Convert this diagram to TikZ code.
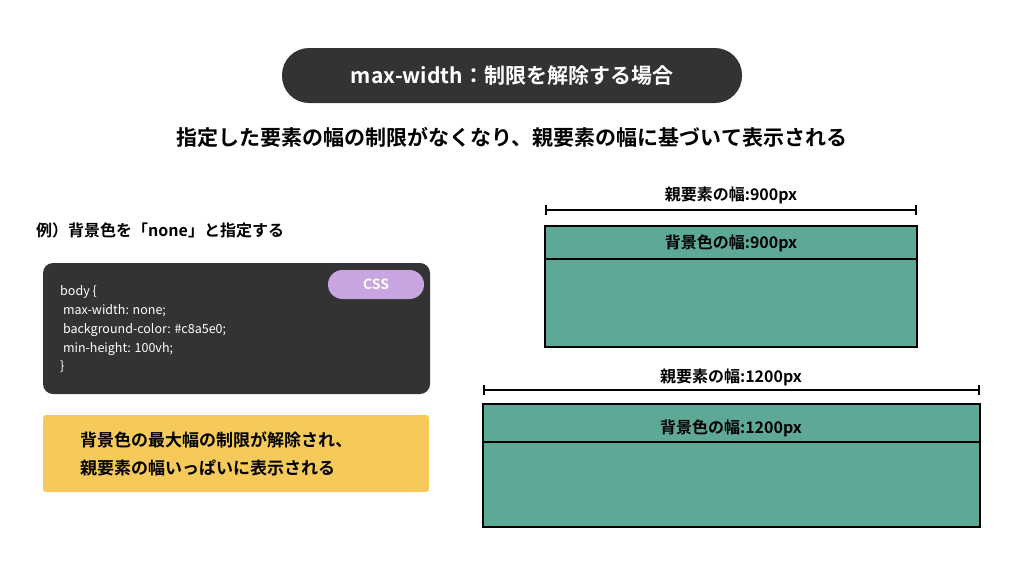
\documentclass[tikz,border=0pt]{standalone}
\usepackage{fontspec}
\setmainfont{Noto Sans CJK JP}
\newfontfamily\jpbold{Noto Sans CJK JP Bold}
\definecolor{darkbox}{HTML}{333333}
\definecolor{cssbg}{HTML}{C8A5E0}
\definecolor{notebg}{HTML}{F5C95A}
\definecolor{areabg}{HTML}{5EA898}
\tikzset{
  pill/.style={fill=darkbox, rounded corners=27pt},
  codebox/.style={fill=darkbox, rounded corners=10pt},
  area/.style={draw=black, line width=2pt, fill=areabg},
  dimline/.style={line width=1.6pt, |-|},
  lbl/.style={font=\jpbold\fontsize{16}{16}\selectfont, inner sep=0pt},
  codeline/.style={anchor=west, text=white, font=\fontsize{12.5}{12.5}\selectfont, inner sep=0pt}
}
\begin{document}
\begin{tikzpicture}[x=1pt,y=-1pt]
\useasboundingbox (0,0) rectangle (1024,574);
% title
\fill[pill] (282,48) rectangle (742,103);
\node[text=white, font=\jpbold\fontsize{21}{21}\selectfont] (title) at (512,76) {max-width：制限を解除する場合};
\node[font=\jpbold\fontsize{21}{21}\selectfont] (sub) at (512,137) {指定した要素の幅の制限がなくなり、親要素の幅に基づいて表示される};
% left side
\node[lbl, anchor=west] (ex) at (36,230) {例）背景色を「none」と指定する};
\fill[codebox] (43,263) rectangle (430,394);
\fill[cssbg, rounded corners=14.5pt] (328,270) rectangle (424,299);
\node[text=white, font=\jpbold\fontsize{14}{14}\selectfont] (css) at (376,284.5) {CSS};
\node[codeline] (c1) at (60,292) {body \{};
\node[codeline] (c2) at (60,311) {\ max-width: none;};
\node[codeline] (c3) at (60,330) {\ background-color: \#c8a5e0;};
\node[codeline] (c4) at (60,349) {\ min-height: 100vh;};
\node[codeline] (c5) at (60,367) {\}};
\fill[notebg, rounded corners=3pt] (43,415) rectangle (429,492);
\node[lbl, anchor=west, font=\jpbold\fontsize{17}{17}\selectfont] (n1) at (80,440) {背景色の最大幅の制限が解除され、};
\node[lbl, anchor=west, font=\jpbold\fontsize{17}{17}\selectfont] (n2) at (80,468) {親要素の幅いっぱいに表示される};
% right side: 900px
\node[lbl] (p900) at (731,195) {親要素の幅:900px};
\coordinate (d900a) at (545,210);
\coordinate (d900b) at (917,210);
\draw[dimline] (d900a) -- (d900b);
\draw[area] (545,226) rectangle (917,347);
\draw[line width=2pt] (545,259) -- (917,259);
\node[lbl] (b900) at (731,243) {背景色の幅:900px};
% right side: 1200px
\node[lbl] (p1200) at (731,377) {親要素の幅:1200px};
\coordinate (d1200a) at (483,390);
\coordinate (d1200b) at (980,390);
\draw[dimline] (d1200a) -- (d1200b);
\draw[area] (483,404) rectangle (980,527);
\draw[line width=2pt] (483,442) -- (980,442);
\node[lbl] (b1200) at (731,428) {背景色の幅:1200px};
\end{tikzpicture}
\end{document}
